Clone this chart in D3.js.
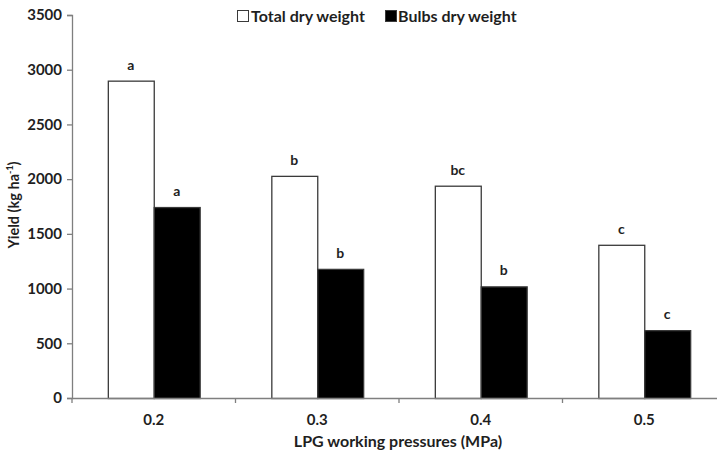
<!DOCTYPE html>
<html>
<head>
<meta charset="utf-8">
<script src="https://cdn.jsdelivr.net/npm/d3@7"></script>
<style>
  html, body { margin: 0; padding: 0; background: #fff; }
  svg { display: block; font-family: Lato, "Open Sans", sans-serif; font-weight: 700; }
</style>
</head>
<body>
<svg id="chart" width="717" height="457"></svg>
<script>
// Yield by LPG working pressure
const categories = ["0.2", "0.3", "0.4", "0.5"];
const seriesNames = ["Total dry weight", "Bulbs dry weight"];
const totalDry = [2900, 2030, 1940, 1400];
const bulbsDry = [1745, 1180, 1020, 620];
const totalLetters = ["a", "b", "bc", "c"];
const bulbsLetters = ["a", "b", "b", "c"];
const yTicks = [0, 500, 1000, 1500, 2000, 2500, 3000, 3500];

const rows = categories.map((c, i) => ({
  cat: c,
  bars: [
    { key: seriesNames[0], value: totalDry[i], letter: totalLetters[i] },
    { key: seriesNames[1], value: bulbsDry[i], letter: bulbsLetters[i] }
  ]
}));

const fills = { [seriesNames[0]]: "#ffffff", [seriesNames[1]]: "#000000" };

const svg = d3.select("#chart");
const plotLeft = 72, plotRight = 726, plotTop = 15, plotBottom = 398;

const x0 = d3.scaleBand().domain(categories).range([plotLeft, plotRight]).paddingInner(0).paddingOuter(0);
const x1 = d3.scaleBand().domain(seriesNames).range([0, x0.bandwidth()]).paddingInner(0).paddingOuter(0.78);
const y = d3.scaleLinear().domain([0, 3500]).range([plotBottom, plotTop]);

const axisColor = "#7f7f7f";
const textColor = "#1f1f1f";

// bars
const groups = svg.append("g").selectAll("g").data(rows).join("g")
  .attr("transform", d => `translate(${x0(d.cat)},0)`);

groups.selectAll("rect").data(d => d.bars).join("rect")
  .attr("x", d => x1(d.key) + 0.5)
  .attr("y", d => y(d.value) + 0.5)
  .attr("width", x1.bandwidth())
  .attr("height", d => plotBottom - y(d.value))
  .attr("fill", d => fills[d.key])
  .attr("stroke", "#3a3a3a")
  .attr("stroke-width", 1.3);

groups.selectAll("text.sig").data(d => d.bars).join("text")
  .attr("class", "sig")
  .attr("x", d => x1(d.key) + x1.bandwidth() / 2)
  .attr("y", d => y(d.value) - 11)
  .attr("text-anchor", "middle")
  .attr("font-size", 14)
  .attr("fill", textColor)
  .text(d => d.letter);

// y axis
const yAxis = svg.append("g").attr("transform", `translate(${plotLeft},0)`)
  .call(d3.axisLeft(y).tickValues(yTicks).tickSize(5).tickPadding(5).tickFormat(d3.format("d")));
yAxis.select(".domain").attr("stroke", axisColor).attr("stroke-width", 1.3);
yAxis.selectAll(".tick line").attr("stroke", axisColor).attr("stroke-width", 1.3);
yAxis.selectAll(".tick text").attr("fill", textColor).attr("font-size", 15)
  .attr("font-family", "Lato, sans-serif").attr("font-weight", 700);

// x axis
const xAxis = svg.append("g").attr("transform", `translate(0,${plotBottom})`)
  .call(d3.axisBottom(x0).tickSize(0).tickPadding(16));
xAxis.select(".domain").attr("stroke", axisColor).attr("stroke-width", 1.3);
xAxis.selectAll(".tick text").attr("fill", textColor).attr("font-size", 15)
  .attr("font-family", "Lato, sans-serif").attr("font-weight", 700);

// category boundary ticks
const bounds = categories.map(c => x0(c)).concat([x0(categories[categories.length - 1]) + x0.bandwidth()]);
svg.append("g").selectAll("line").data(bounds).join("line")
  .attr("x1", d => d).attr("x2", d => d)
  .attr("y1", plotBottom).attr("y2", plotBottom + 5)
  .attr("stroke", axisColor).attr("stroke-width", 1.3);

// axis titles
svg.append("text")
  .attr("x", 398).attr("y", 447)
  .attr("text-anchor", "middle")
  .attr("font-size", 16)
  .attr("fill", textColor)
  .text("LPG working pressures (MPa)");

const yt = svg.append("text")
  .attr("transform", "translate(19,205) rotate(-90)")
  .attr("text-anchor", "middle")
  .attr("font-size", 14.5)
  .attr("fill", textColor);
yt.append("tspan").text("Yield (kg ha");
yt.append("tspan").attr("font-size", 9).attr("dy", -6).text("-1");
yt.append("tspan").attr("dy", 6).text(")");

// legend
const legendItems = [
  { name: seriesNames[0], x: 237, tx: 251 },
  { name: seriesNames[1], x: 385, tx: 398 }
];
const lg = svg.append("g").selectAll("g").data(legendItems).join("g");
lg.append("rect")
  .attr("x", d => d.x + 0.5).attr("y", 10.5)
  .attr("width", 11).attr("height", 11)
  .attr("fill", d => fills[d.name])
  .attr("stroke", "#3a3a3a").attr("stroke-width", 1);
lg.append("text")
  .attr("x", d => d.tx).attr("y", 22)
  .attr("font-size", 16)
  .attr("fill", textColor)
  .text(d => d.name);
</script>
</body>
</html>
